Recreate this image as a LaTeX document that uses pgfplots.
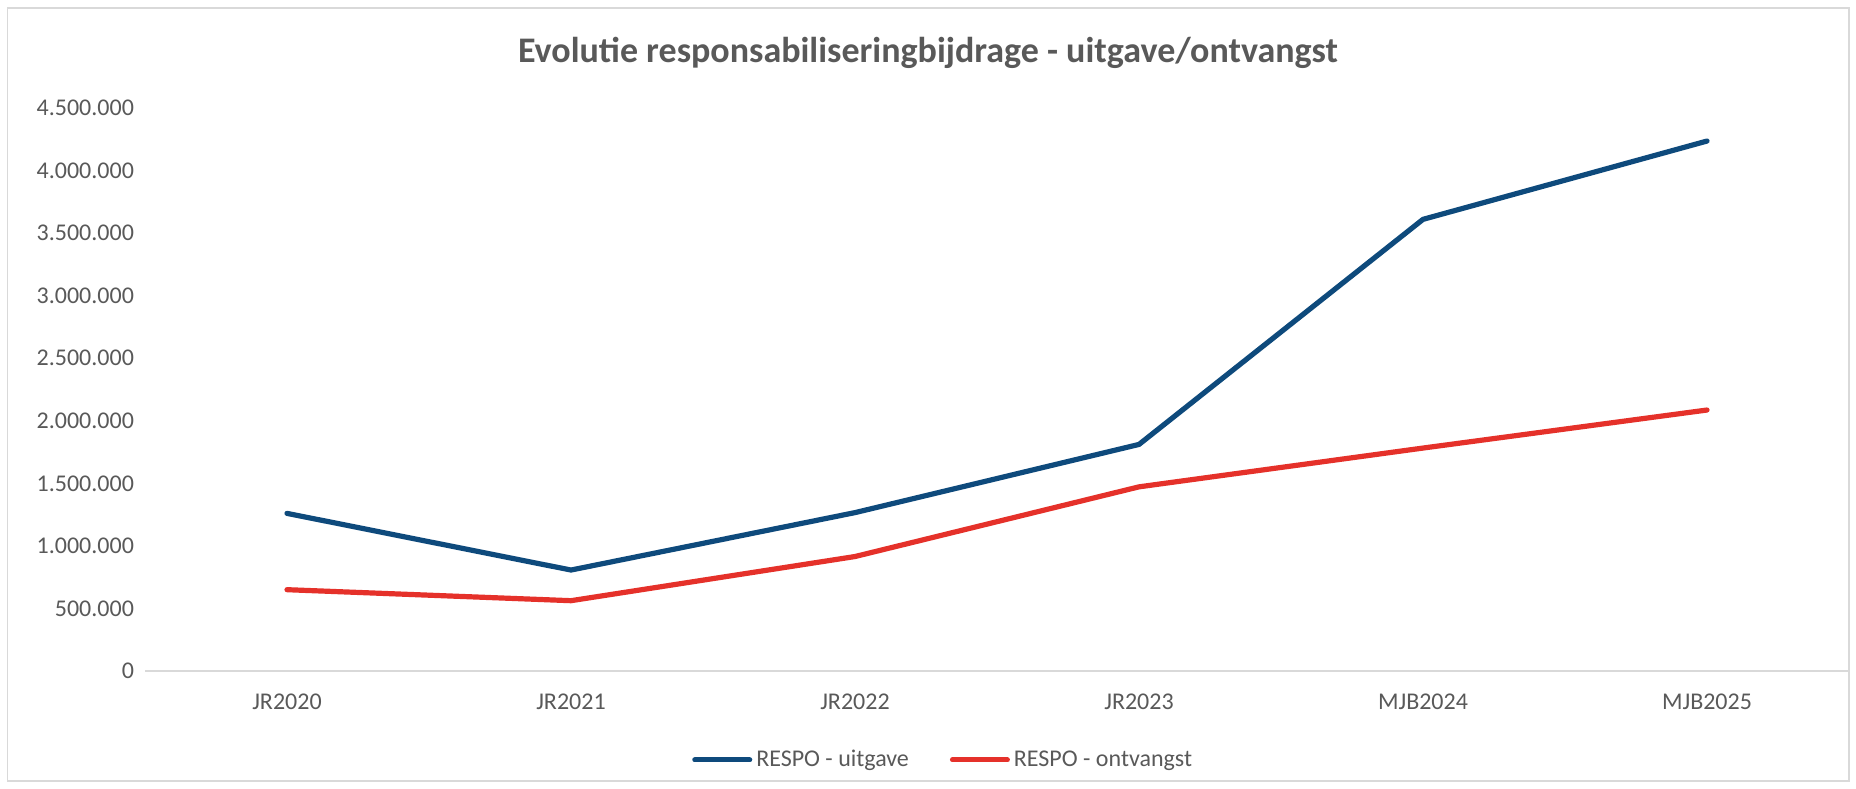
\documentclass[border=0pt]{standalone}
\usepackage{pgfplots}
\pgfplotsset{compat=1.18}
\usepackage{fontspec}
\setmainfont{Carlito}
\definecolor{blueline}{HTML}{0E4A7C}
\definecolor{redline}{HTML}{E5312A}
\definecolor{txt}{HTML}{595959}
\definecolor{axisgray}{HTML}{D9D9D9}
\begin{document}
\begin{tikzpicture}
\path[use as bounding box] (0,0) rectangle (928pt,394pt);
\draw[axisgray, line width=0.8pt] (3.75pt,3.5pt) rectangle (924.5pt,390pt);
\begin{axis}[
  at={(72.5pt,58.5pt)}, anchor=south west,
  scale only axis, width=852pt, height=281.5pt,
  xmin=-0.5, xmax=5.5, ymin=0, ymax=4500000,
  xtick={0,1,2,3,4,5},
  xticklabels={JR2020,JR2021,JR2022,JR2023,MJB2024,MJB2025},
  ytick={0,500000,1000000,1500000,2000000,2500000,3000000,3500000,4000000,4500000},
  axis x line*=bottom, axis y line*=left,
  x axis line style={axisgray, line width=1pt},
  y axis line style={draw=none},
  tick style={draw=none},
  major tick length=0pt,
  scaled y ticks=false,
  y tick label style={/pgf/number format/fixed, /pgf/number format/precision=0, /pgf/number format/1000 sep={.}, /pgf/number format/assume math mode=true, xshift=-2pt},
  x tick label style={yshift=-8pt},
  tick label style={font=\fontsize{12pt}{14pt}\selectfont, text=txt},
  title={Evolutie responsabiliseringbijdrage - uitgave/ontvangst},
  title style={at={(0.4595,1.0977)}, anchor=center, yshift=-6pt, font=\bfseries\fontsize{18pt}{21pt}\selectfont, text=txt},
  legend style={at={(0.469,-0.158)}, anchor=center, draw=none, fill=none, legend columns=2,
    font=\fontsize{12pt}{14pt}\selectfont, text=txt,
    /tikz/every even column/.append style={column sep=18.5pt}},
  legend cell align=left,
  legend image code/.code={\draw[#1, line width=2.5pt, line cap=round] (0pt,0pt) -- (27.5pt,0pt);},
]
\addplot[blueline, line width=2.6pt, line join=round, line cap=round] coordinates {
  (0,1260000) (1,807000) (2,1266000) (3,1811000) (4,3610000) (5,4236000)};
\addlegendentry{RESPO - uitgave}
\addplot[redline, line width=2.6pt, line join=round, line cap=round] coordinates {
  (0,650000) (1,562000) (2,915000) (3,1472000) (4,1782000) (5,2086000)};
\addlegendentry{RESPO - ontvangst}
\end{axis}
\end{tikzpicture}
\end{document}
